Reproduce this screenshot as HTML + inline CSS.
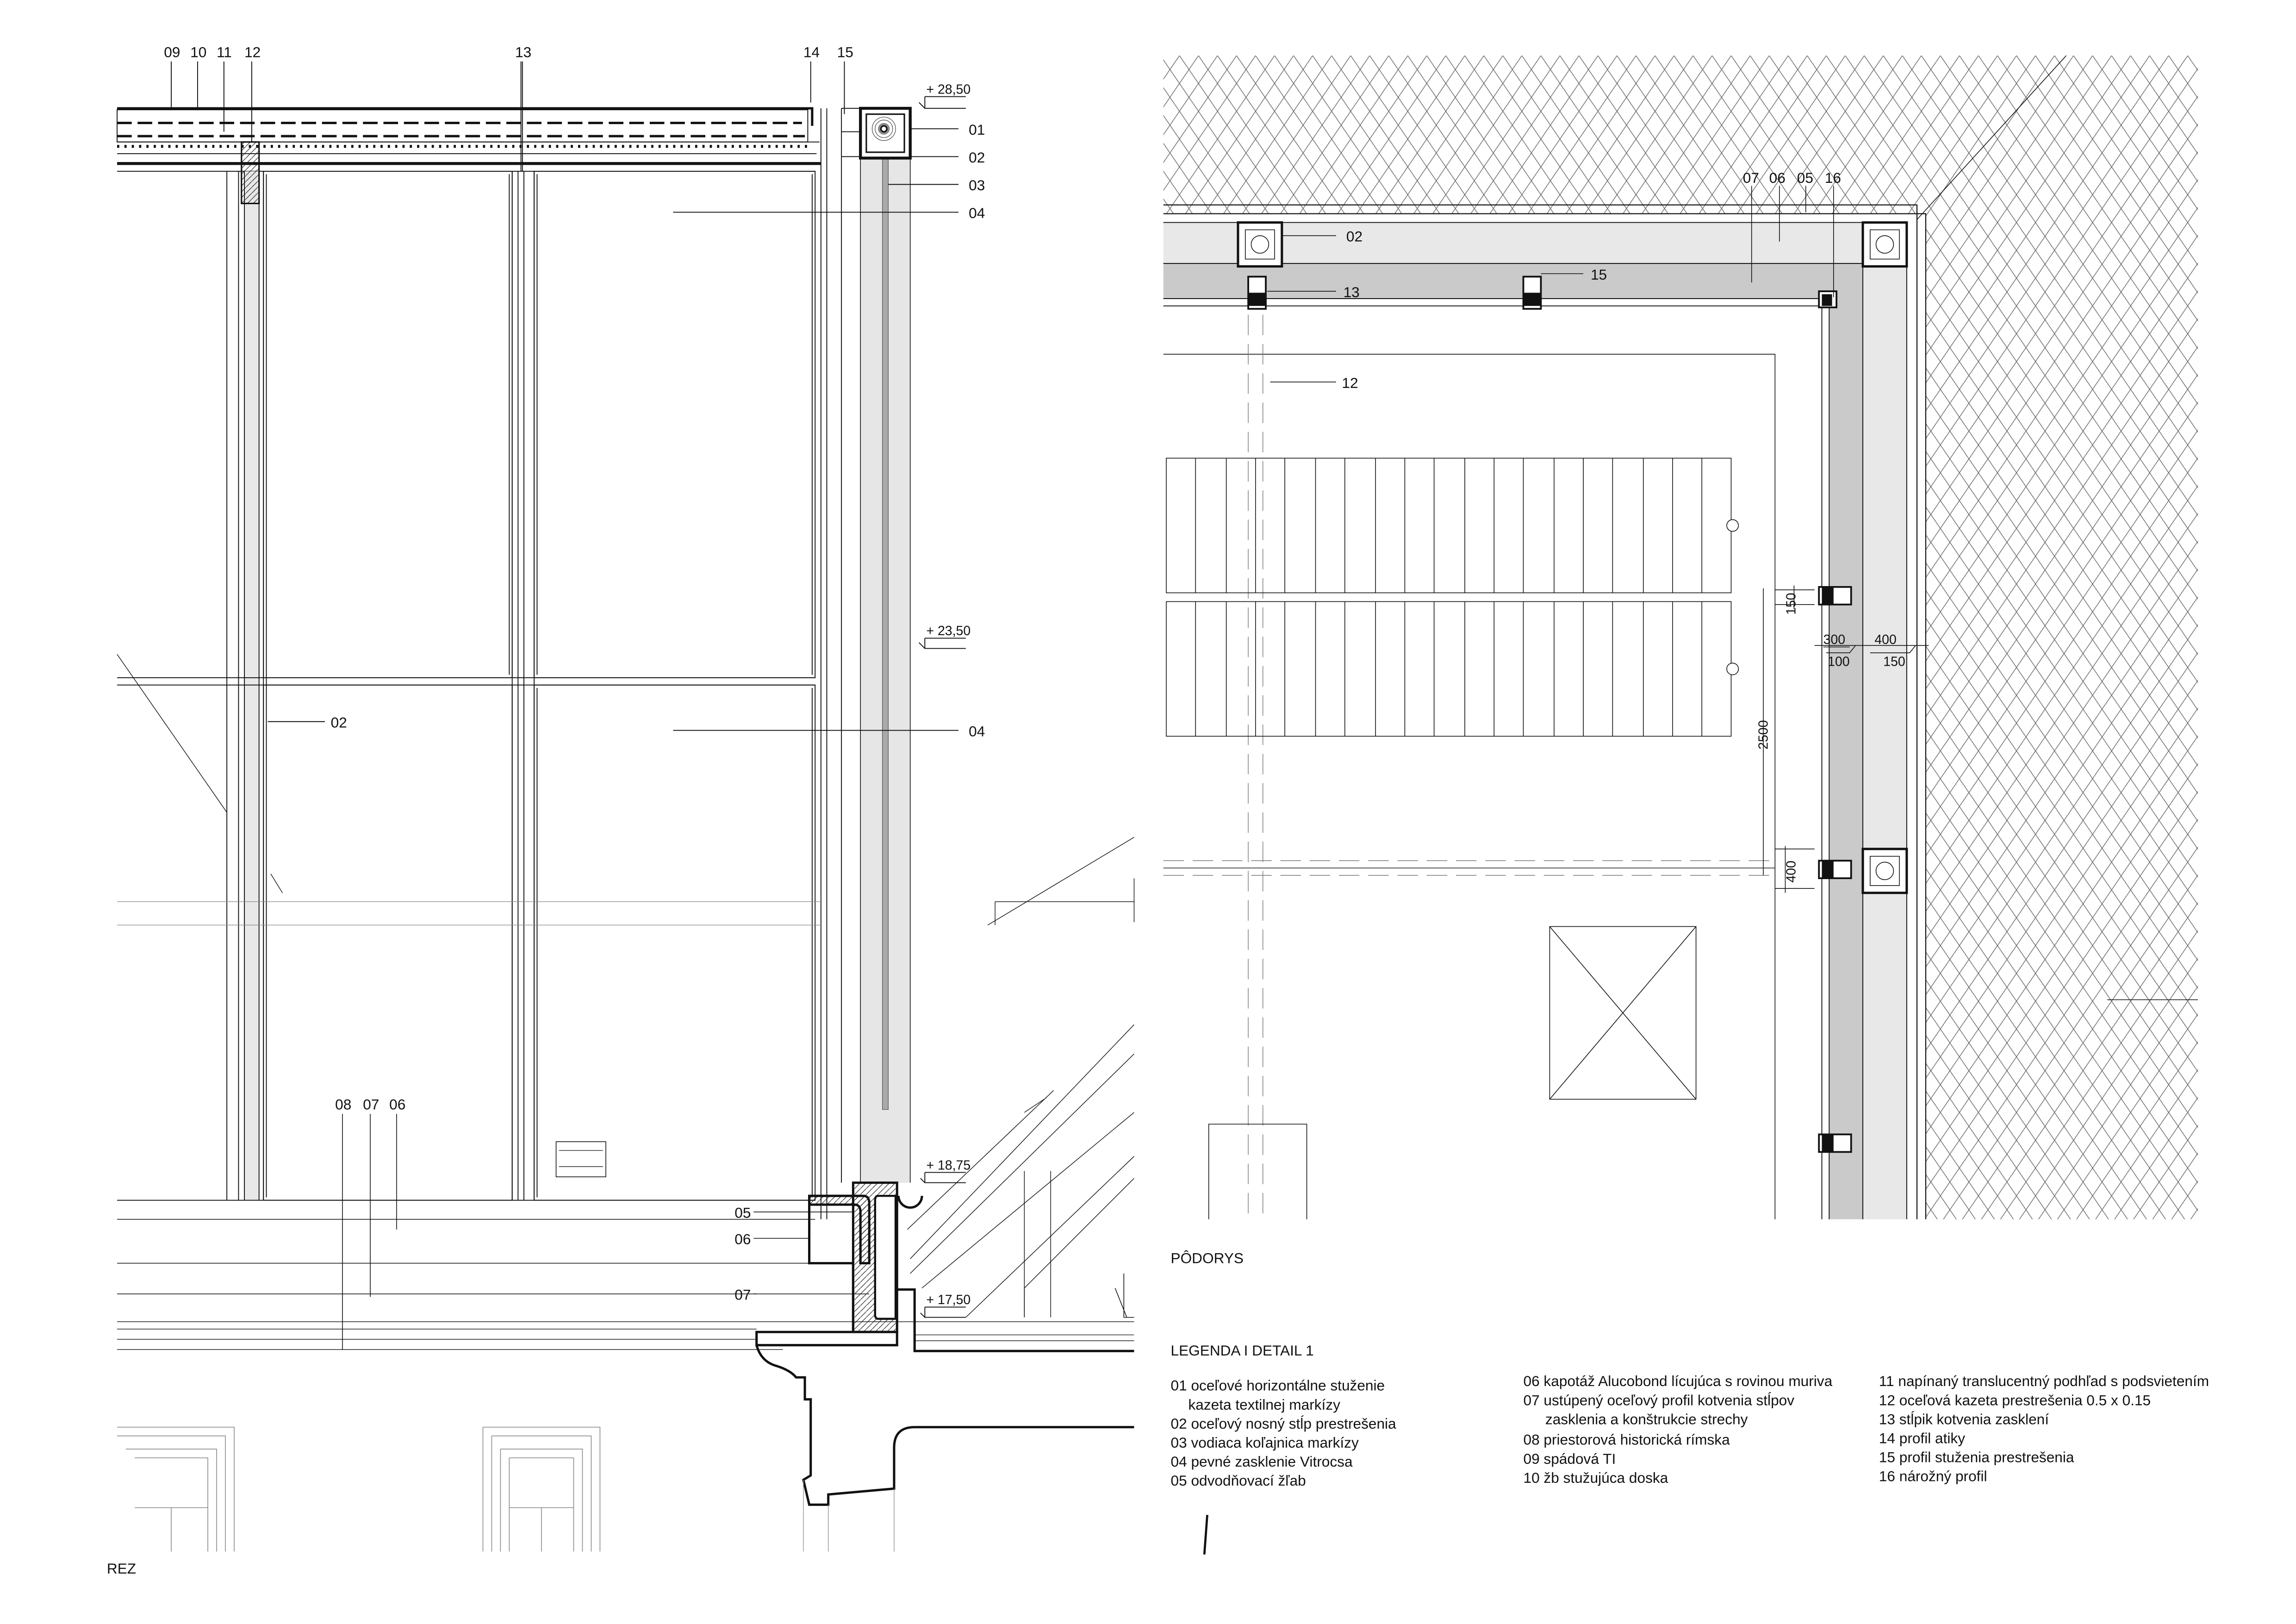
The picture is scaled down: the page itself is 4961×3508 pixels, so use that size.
<!DOCTYPE html>
<html><head><meta charset="utf-8"><style>
html,body{margin:0;padding:0;background:#fff}
svg{display:block}
text{font-family:"Liberation Sans Narrow","Liberation Sans",sans-serif;fill:#111}
</style></head><body>
<svg width="4961" height="3508" viewBox="0 0 1569 1109.5" xmlns="http://www.w3.org/2000/svg">
<defs>
<pattern id="hx" width="13" height="19" patternUnits="userSpaceOnUse">
<path d="M0 0L13 19M13 0L0 19" stroke="#666" stroke-width="0.45" fill="none"/>
</pattern>
<pattern id="hd" width="4" height="4" patternUnits="userSpaceOnUse">
<path d="M0 4L4 0" stroke="#222" stroke-width="0.4"/>
</pattern>
</defs>
<rect width="1569" height="1110" fill="#fff"/>

<!-- ================= PLAN ================= -->
<g stroke="#111" fill="none" stroke-width="0.6">
<path d="M795 38H1502V833H1316V146H795Z" fill="url(#hx)" stroke="none"/>
<path d="M795 140H1310V833M795 146H1316V833" stroke-width="0.7"/>
<path d="M1310 150L1412 38M1440 683H1502" stroke-width="0.5"/>
<rect x="795" y="152" width="508" height="28" fill="#e8e8e8" stroke="none"/>
<rect x="1273" y="152" width="30" height="681" fill="#e8e8e8" stroke="none"/>
<rect x="795" y="180" width="478" height="24" fill="#cacaca" stroke="none"/>
<rect x="1250" y="180" width="23" height="653" fill="#cacaca" stroke="none"/>
<path d="M795 152H1303V833M795 180H1273V833M795 204H1245M795 209H1245V833M1250 204V833" />
<path d="M795 242H1213V833" stroke-width="0.5"/>
<g stroke-width="1.6" fill="#fff">
<rect x="846" y="152" width="30" height="30"/><rect x="1273" y="152" width="30" height="30"/><rect x="1273" y="580" width="30" height="30"/>
</g>
<g stroke-width="0.5"><rect x="851" y="157" width="20" height="20"/><circle cx="861" cy="167" r="6"/>
<rect x="1278" y="157" width="20" height="20"/><circle cx="1288" cy="167" r="6"/>
<rect x="1278" y="585" width="20" height="20"/><circle cx="1288" cy="595" r="6"/></g>
<g fill="#fff" stroke-width="1.2">
<rect x="853" y="189" width="12" height="22"/><rect x="1041" y="189" width="12" height="22"/><rect x="1243" y="199" width="12" height="11"/>
<rect x="1243" y="401" width="22" height="12"/><rect x="1243" y="588" width="22" height="12"/><rect x="1243" y="775" width="22" height="12"/>
</g>
<g fill="#111" stroke="none">
<rect x="853" y="200" width="12" height="9"/><rect x="1041" y="200" width="12" height="9"/><rect x="1245" y="201" width="7" height="8"/>
<rect x="1245" y="401" width="8" height="12"/><rect x="1245" y="588" width="8" height="12"/><rect x="1245" y="775" width="8" height="12"/>
</g>
<path d="M853 215V833M863 215V833M795 588H1213M795 598H1213" stroke-dasharray="14 6" stroke-width="0.45" stroke="#777"/>
<path d="M795 593H1213" stroke-width="0.45"/>
<g stroke-width="0.5">
<rect x="797" y="313" width="386" height="92"/><rect x="797" y="411" width="386" height="92"/>
<path d="M817 313V405M838 313V405M858 313V405M878 313V405M899 313V405M919 313V405M940 313V405M960 313V405M980 313V405M1001 313V405M1021 313V405M1041 313V405M1062 313V405M1082 313V405M1102 313V405M1123 313V405M1143 313V405M1163 313V405"/>
<path d="M817 411V503M838 411V503M858 411V503M878 411V503M899 411V503M919 411V503M940 411V503M960 411V503M980 411V503M1001 411V503M1021 411V503M1041 411V503M1062 411V503M1082 411V503M1102 411V503M1123 411V503M1143 411V503M1163 411V503"/>
<circle cx="1184" cy="359" r="4" fill="#fff"/><circle cx="1184" cy="457" r="4" fill="#fff"/>
<rect x="1059" y="633" width="100" height="118"/><path d="M1059 633L1159 751M1159 633L1059 751"/>
<path d="M826 833V768H893V833"/>
</g>
<g stroke-width="0.5">
<path d="M876 161H913M866 199H913M1053 187H1082M868 261H913"/>
<path d="M1197 127V193M1216 127V165M1234 127V145M1253 127V203"/>
<path d="M1213 403H1240M1213 413H1240M1226 400V416M1205 402V598M1213 580H1240M1213 607H1240M1220 578V610"/>
<path d="M1240 441H1318M1246 442H1264M1248 446H1264L1268 441M1278 446H1305L1309 441"/>
</g>
</g>
<g font-size="10">
<text x="920" y="165">02</text><text x="918" y="203">13</text><text x="1087" y="191">15</text><text x="917" y="265">12</text>
<text x="1191" y="125">07</text><text x="1209" y="125">06</text><text x="1228" y="125">05</text><text x="1247" y="125">16</text>
<text x="1246" y="440" font-size="9">300</text><text x="1281" y="440" font-size="9">400</text>
<text x="1249" y="455" font-size="9">100</text><text x="1287" y="455" font-size="9">150</text>
<text transform="translate(1227,420) rotate(-90)" font-size="9">150</text>
<text transform="translate(1208,512) rotate(-90)" font-size="9">2500</text>
<text transform="translate(1227,603) rotate(-90)" font-size="9">400</text>
<text x="800" y="863">PÔDORYS</text>
<text x="800" y="926">LEGENDA I DETAIL 1</text>
</g>
<g font-size="10">
<text x="800" y="950">01 oceľové horizontálne stuženie</text>
<text x="812" y="963">kazeta textilnej markízy</text>
<text x="800" y="976">02  oceľový nosný stĺp prestrešenia</text>
<text x="800" y="989">03  vodiaca koľajnica markízy</text>
<text x="800" y="1002">04  pevné zasklenie Vitrocsa</text>
<text x="800" y="1015">05  odvodňovací žľab</text>
<text x="1041" y="947">06  kapotáž Alucobond lícujúca s rovinou muriva</text>
<text x="1041" y="960">07  ustúpený oceľový profil kotvenia stĺpov</text>
<text x="1056" y="973">zasklenia a konštrukcie strechy</text>
<text x="1041" y="987">08  priestorová historická rímska</text>
<text x="1041" y="1000">09  spádová TI</text>
<text x="1041" y="1013">10  žb stužujúca doska</text>
<text x="1284" y="947">11 napínaný translucentný podhľad s podsvietením</text>
<text x="1284" y="960">12 oceľová kazeta prestrešenia 0.5 x 0.15</text>
<text x="1284" y="973">13 stĺpik kotvenia zasklení</text>
<text x="1284" y="986">14 profil atiky</text>
<text x="1284" y="999">15 profil stuženia prestrešenia</text>
<text x="1284" y="1012">16 nárožný profil</text>
</g>
<path d="M825 1035L823 1062" stroke="#111" stroke-width="1.5"/>

<!-- ================= SECTION ================= -->
<g stroke="#111" fill="none" stroke-width="0.6">
<rect x="80" y="75" width="472" height="22" fill="#fff"/>
<path d="M80 74H555V86" stroke-width="1.6"/>
<path d="M80 84H548M80 93H550" stroke-width="1.6" stroke-dasharray="10 4"/>
<path d="M80 97H560M80 105H558M80 111H561" />
<path d="M80 112H561" stroke-width="1.4"/>
<path d="M80 100H555" stroke-dasharray="1.5 3.5" stroke-width="2"/>
<path d="M561 74V833M565 74V833M575 74V808M575 74H588M575 90H588M575 107H588M80 117H557"/>
<rect x="167" y="117" width="10" height="703" fill="#e8e8e8" stroke="none"/>
<path d="M155 117V820M163 117V820M167 117V820M177 117V820M180 117V820"/>
<rect x="165" y="97" width="12" height="42" fill="url(#hd)" stroke-width="1"/>
<rect x="180" y="117" width="170" height="346"/><rect x="365" y="117" width="192" height="346"/>
<rect x="180" y="468" width="170" height="352"/><rect x="365" y="468" width="192" height="352"/>
<path d="M350 117V820M354 117V820M358 117V820M365 117V820M182 119V818M348 119V461M367 119V461M555 119V461M367 470V818M555 470V818M182 470V461"/>
<path d="M80 463H557M80 468H557M80 820H557" />
<path d="M80 616H561M80 632H561" stroke-width="0.4" stroke="#888"/>
<rect x="380" y="780" width="34" height="24" stroke-width="0.5"/><path d="M382 786H412M382 797H412" stroke-width="0.4"/>
<rect x="588" y="108" width="34" height="700" fill="#e6e6e6" stroke="none"/>
<path d="M588 108V808M622 108V808" stroke-width="0.5"/>
<rect x="603" y="108" width="4" height="650" fill="#aaa" stroke="#555" stroke-width="0.4"/>
<rect x="588" y="74" width="34" height="34" stroke-width="2" fill="#fff"/>
<rect x="592" y="78" width="26" height="26" stroke-width="1"/>
<circle cx="604" cy="88" r="8" stroke-width="0.3"/><circle cx="604" cy="88" r="6" stroke-width="0.3"/><circle cx="604" cy="88" r="4" fill="#888" stroke="none"/>
<circle cx="604" cy="88" r="2" stroke-width="1" fill="#fff"/>
<path d="M622 88H655M622 107H655M607 126H655M460 145H655M460 499H655M183 493H222M356 42V117M554 42V70M577 42V78"/>
<path d="M117 42V75M135 42V75M153 42V90M172 42V97M357 42V117"/>
<path d="M632 66H660M632 66V74H660M628 70L632 74M632 436H660M632 436V443H660M628 439L632 443M632 801H660M632 801V808H660M629 805L632 808M632 893H660M632 893V900H660M629 897L632 900"/>
<path d="M80 447L155 555M185 597L193 610M675 632L775 572M680 616V632M775 600V630M680 616H775" stroke-width="0.45"/>
<path d="M622 860L775 700M622 870L775 720M630 880L775 760M660 900L775 790M700 880L775 805M620 840L720 745M700 760L715 750M700 800V900M718 800V900" stroke-width="0.45"/>
<path d="M700 880V900M762 880L770 900M768 870V900H775" stroke-width="0.5"/>
<path d="M80 833H557M80 863H557M80 884H517M80 903H775M80 908H517M80 915H517M80 922H535" stroke-width="0.45"/>
<path d="M625 912H775M625 916H775" stroke-width="0.4"/>
<path d="M234 761V922M253 761V886M271 761V840M515 828H583M515 846H553M515 884H594" stroke-width="0.5"/>
<path d="M583 808H613V910H583Z" fill="url(#hd)" stroke-width="1.6"/>
<path d="M600 817H612V901H600Q598 901 598 898V820Q598 817 600 817Z" fill="#fff" stroke-width="1.4"/>
<path d="M553 817H590Q594 817 594 822V863H588V828Q588 823 584 823H553Z" fill="url(#hd)" stroke-width="1.6"/>
<path d="M553 817V863H583V910" stroke-width="1.6"/>
<path d="M614 817A8 8 0 0 0 630 817" stroke-width="1.6"/>
<path d="M613 881H625V923H775" stroke-width="1.6"/>
<path d="M517 910H613V919H517Z" stroke-width="1.6" fill="#fff"/>
<path d="M517 919Q520 930 530 933Q540 936 544 941H550V956H554V1008L549 1011L553 1028H566V1021L611 1017V989Q611 975 625 975H775" stroke-width="1.6"/>
<path d="M549 1011V1060M566 1028V1060M611 1017V1060" stroke-width="0.4" stroke="#888"/>
<g stroke="#888" stroke-width="0.5">
<path d="M80 975H160V1060M80 981H154V1060M86 990H148V1060M92 996H142V1060M117 1030V1060M92 1030H142"/>
<path d="M330 975H410V1060M336 981H404V1060M342 990H398V1060M348 996H392V1060M370 1030V1060M348 1030H392M330 975V1060M336 981V1060M342 990V1060M348 996V1060"/>
</g>
</g>
<g font-size="10">
<text x="112" y="39">09</text><text x="130" y="39">10</text><text x="148" y="39">11</text><text x="167" y="39">12</text>
<text x="352" y="39">13</text><text x="549" y="39">14</text><text x="572" y="39">15</text>
<text x="662" y="92">01</text><text x="662" y="111">02</text><text x="662" y="130">03</text><text x="662" y="149">04</text>
<text x="662" y="503">04</text><text x="226" y="497">02</text>
<text x="633" y="64" font-size="9">+ 28,50</text><text x="633" y="434" font-size="9">+ 23,50</text>
<text x="633" y="799" font-size="9">+ 18,75</text><text x="633" y="891" font-size="9">+ 17,50</text>
<text x="229" y="758">08</text><text x="248" y="758">07</text><text x="266" y="758">06</text>
<text x="502" y="832">05</text><text x="502" y="850">06</text><text x="502" y="888">07</text>
<text x="73" y="1075">REZ</text>
</g>
</svg>
</body></html>
